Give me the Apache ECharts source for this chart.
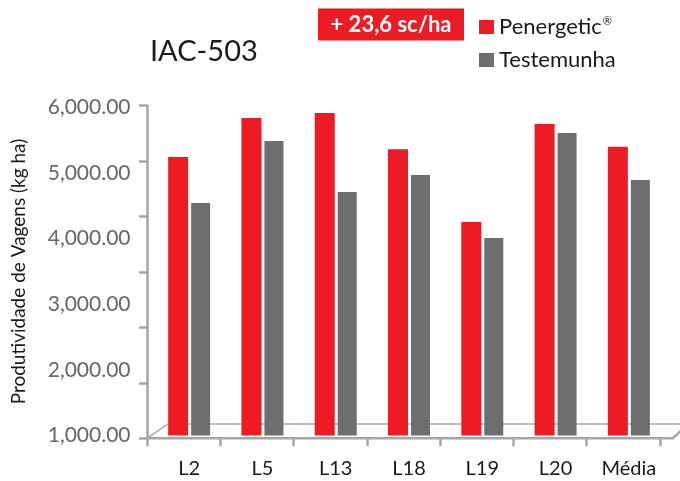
<!DOCTYPE html>
<html>
<head>
<meta charset="utf-8">
<script src="https://cdn.jsdelivr.net/npm/echarts@6/dist/echarts.min.js"></script>
<style>
  html, body { margin: 0; padding: 0; background: #fff; }
  #chart { width: 680px; height: 481px; }
</style>
</head>
<body>
<div id="chart"></div>
<script>
// Yield of pods per line, treated vs control (kg/ha)
const categories = ['L2', 'L5', 'L13', 'L18', 'L19', 'L20', 'Média'];
const penergetic = [5245, 5840, 5915, 5365, 4255, 5750, 5400];
const testemunha = [4545, 5490, 4710, 4970, 4010, 5610, 4895];
const yTicks = [1000, 2000, 3000, 4000, 5000, 6000];

const RED = '#ED1C24';
const GREY = '#6D6E70';
const AXIS = '#A6A6A6';
const FONT = 'Lato, "Noto Sans", sans-serif';

const chart = echarts.init(document.getElementById('chart'), null, { renderer: 'canvas' });

const fmt = v => v.toLocaleString('en-US', { minimumFractionDigits: 2, maximumFractionDigits: 2 });

chart.setOption({
  animation: false,
  backgroundColor: '#fff',
  title: {
    text: 'IAC-503',
    left: 145,
    top: 32,
    textStyle: { fontFamily: FONT, fontSize: 29, fontWeight: 'normal', color: '#1a1a1a' }
  },
  legend: {
    orient: 'vertical',
    left: 474,
    top: 11,
    itemWidth: 15,
    itemHeight: 14,
    itemGap: 11,
    icon: 'rect',
    data: ['Penergetic', 'Testemunha'],
    formatter: name => name === 'Penergetic' ? '{n|Penergetic}{s|®}' : '{n|Testemunha}',
    textStyle: {
      fontFamily: FONT,
      color: '#1a1a1a',
      rich: {
        n: { fontFamily: FONT, fontSize: 22, color: '#1a1a1a' },
        s: { fontFamily: FONT, fontSize: 11, color: '#1a1a1a', verticalAlign: 'top', padding: [0, 0, 10, 1] }
      }
    }
  },
  grid: [
    { left: 152.5, top: 107.5, width: 513, height: 328 },
    { left: 147, top: 105.7, width: 513, height: 332.6 }
  ],
  xAxis: [
    {
      type: 'category', gridIndex: 0, data: categories,
      axisLine: { show: false }, axisTick: { show: false },
      axisLabel: { margin: 23, fontFamily: FONT, fontSize: 20, color: '#1a1a1a' }
    },
    {
      type: 'category', gridIndex: 1, data: categories,
      axisLine: { show: false },
      axisTick: { show: true, length: 8, lineStyle: { color: AXIS, width: 2.5 } },
      axisLabel: { show: false }
    }
  ],
  yAxis: [
    {
      type: 'value', gridIndex: 0, min: 1000, max: 6000, interval: 1000,
      axisLine: { show: false }, axisTick: { show: false }, splitLine: { show: false },
      axisLabel: { margin: 22, fontFamily: FONT, fontSize: 21, color: '#666666', formatter: fmt },
      name: 'Produtividade de Vagens (kg ha)',
      nameLocation: 'middle',
      nameGap: 124,
      nameRotate: 90,
      nameTextStyle: { fontFamily: FONT, fontSize: 19, color: '#1a1a1a' }
    },
    {
      type: 'value', gridIndex: 1, min: 0, max: 6, interval: 1,
      axisLine: { show: true, lineStyle: { color: AXIS, width: 2.5 } },
      axisTick: { show: true, length: 8, lineStyle: { color: AXIS, width: 2.5 } },
      axisLabel: { show: false }, splitLine: { show: false }
    }
  ],
  series: [
    {
      name: 'Penergetic', type: 'bar', xAxisIndex: 0, yAxisIndex: 0,
      data: penergetic, barWidth: 20, barGap: '15%',
      itemStyle: { color: RED }, z: 5
    },
    {
      name: 'Testemunha', type: 'bar', xAxisIndex: 0, yAxisIndex: 0,
      data: testemunha, barWidth: 19, barGap: '15%',
      itemStyle: { color: GREY }, z: 5
    }
  ],
  graphic: [
    // floor of the plot area
    {
      type: 'polyline', z: 1, silent: true,
      shape: { points: [[147, 438.3], [673, 438.3], [688, 424]] },
      style: { stroke: AXIS, lineWidth: 2.5, fill: null }
    },
    {
      type: 'polyline', z: 1, silent: true,
      shape: { points: [[147, 438.3], [168, 424], [680, 424]] },
      style: { stroke: AXIS, lineWidth: 1.5, fill: null }
    },
    // gain badge
    {
      type: 'rect', z: 10, silent: true,
      shape: { x: 318, y: 8.5, width: 146, height: 32 },
      style: { fill: RED }
    },
    {
      type: 'text', z: 11, silent: true,
      x: 391, y: 25,
      style: {
        text: '+ 23,6 sc/ha', fill: '#ffffff',
        font: 'bold 22px ' + FONT, align: 'center', verticalAlign: 'middle'
      }
    }
  ]
});
</script>
</body>
</html>
